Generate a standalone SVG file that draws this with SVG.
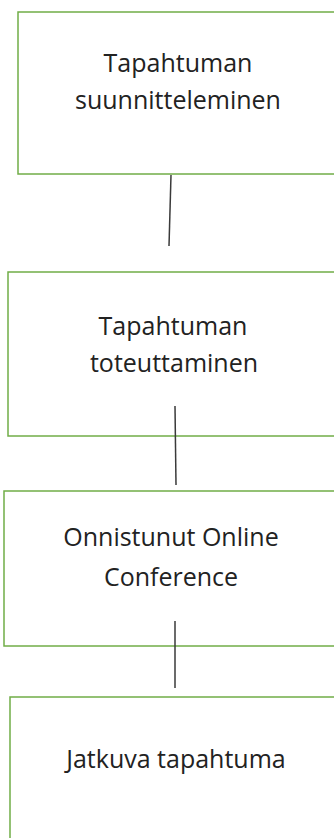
<svg xmlns="http://www.w3.org/2000/svg" width="334" height="838" viewBox="0 0 334 838">
<style>
.box{fill:#fff;stroke:#70AD47;stroke-width:1.5}
.lbl{font-family:"Open Sans","Noto Sans",sans-serif;font-size:25px;fill:#222;text-anchor:middle}
.conn{stroke:#3a3a3a;stroke-width:1.5;fill:none}
</style>
<rect width="334" height="838" fill="#fff"/>
<g id="n1"><rect class="box" x="18" y="12" width="330" height="162"/>
<text class="lbl" x="178" y="72">Tapahtuman</text><text class="lbl" x="178" y="109">suunnitteleminen</text></g>
<g id="n2"><rect class="box" x="8" y="272" width="340" height="164"/>
<text class="lbl" x="173" y="335">Tapahtuman</text><text class="lbl" x="174" y="372">toteuttaminen</text></g>
<g id="n3"><rect class="box" x="4" y="491" width="344" height="155"/>
<text class="lbl" x="171" y="546">Onnistunut Online</text><text class="lbl" x="171" y="586">Conference</text></g>
<g id="n4"><rect class="box" x="10" y="697" width="340" height="160"/>
<text class="lbl" x="176" y="768">Jatkuva tapahtuma</text></g>
<g id="connectors">
<line class="conn" x1="171" y1="175" x2="169" y2="246"/>
<line class="conn" x1="175" y1="406" x2="176" y2="485"/>
<line class="conn" x1="175" y1="621" x2="175" y2="688"/>
</g>
</svg>
